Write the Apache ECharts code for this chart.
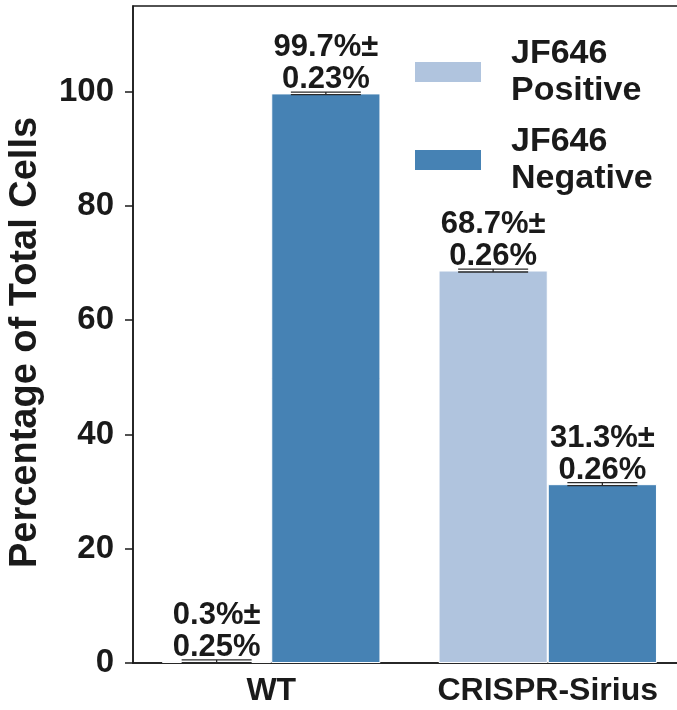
<!DOCTYPE html>
<html>
<head>
<meta charset="utf-8">
<script src="https://cdn.jsdelivr.net/npm/echarts@6/dist/echarts.min.js"></script>
<style>
  html, body { margin: 0; padding: 0; background: #fff; }
  #chart { width: 677px; height: 710px; }
</style>
</head>
<body>
<div id="chart"></div>
<script>
var categories = ['WT', 'CRISPR-Sirius'];
var seriesNames = ['JF646\nPositive', 'JF646\nNegative'];
var positiveValues = [0.3, 68.7];
var positiveErrors = [0.25, 0.26];
var negativeValues = [99.7, 31.3];
var negativeErrors = [0.23, 0.26];
var yTicks = [0, 20, 40, 60, 80, 100];

var fontFamily = '"Liberation Sans", Arial, sans-serif';
var ink = '#1a1a1a';
var colors = ['#b0c4de', '#4682b4'];
var catGap = 0.21;

var values = [positiveValues, negativeValues];
var errors = [positiveErrors, negativeErrors];

// error bar points: [category, value, error, side]
var errData = [];
values.forEach(function (vals, s) {
  vals.forEach(function (v, i) {
    errData.push([i, v, errors[s][i], s]);
  });
});

function barLabel(s) {
  return {
    show: true,
    position: 'top',
    distance: -2,
    fontFamily: fontFamily,
    fontWeight: 'bold',
    fontSize: 31,
    lineHeight: 32,
    color: ink,
    formatter: function (p) {
      return p.value.toFixed(1) + '%±\n' + errors[s][p.dataIndex].toFixed(2) + '%';
    }
  };
}

var chart = echarts.init(document.getElementById('chart'));
chart.setOption({
  animation: false,
  backgroundColor: '#fff',
  color: colors,
  grid: {
    left: 133, right: -9, top: 6, bottom: 47,
    outerBoundsMode: 'none',
    containLabel: false,
    show: true, borderColor: ink, borderWidth: 1.5, backgroundColor: 'transparent'
  },
  legend: {
    orient: 'vertical',
    left: 413,
    top: 35,
    padding: 0,
    itemWidth: 68,
    itemHeight: 22,
    itemGap: 14,
    icon: 'rect',
    data: seriesNames,
    textStyle: {
      fontFamily: fontFamily,
      fontWeight: 'bold',
      fontSize: 34,
      lineHeight: 37,
      color: ink,
      padding: [0, 0, 0, 24]
    }
  },
  xAxis: {
    type: 'category',
    data: categories,
    axisLine: { lineStyle: { color: ink, width: 1.5 } },
    axisTick: { alignWithLabel: true, length: 8, lineStyle: { color: ink, width: 1.5 } },
    axisLabel: {
      interval: 0,
      showMaxLabel: true,
      hideOverlap: false,
      margin: 12,
      fontFamily: fontFamily,
      fontWeight: 'bold',
      fontSize: 32,
      color: ink
    }
  },
  yAxis: {
    type: 'value',
    min: 0,
    max: 115,
    interval: 20,
    name: 'Percentage of Total Cells',
    nameLocation: 'middle',
    nameGap: 88,
    nameTextStyle: {
      fontFamily: fontFamily,
      fontWeight: 'bold',
      fontSize: 38,
      color: ink,
      padding: [0, 16, 0, 0]
    },
    splitLine: { show: false },
    axisLine: { show: true, lineStyle: { color: ink, width: 1.5 } },
    axisTick: { show: true, length: 8, lineStyle: { color: ink, width: 1.5 } },
    axisLabel: {
      margin: 19,
      showMaxLabel: false,
      fontFamily: fontFamily,
      fontWeight: 'bold',
      fontSize: 33,
      color: ink,
      formatter: function (v) { return yTicks.indexOf(v) >= 0 ? String(v) : ''; }
    }
  },
  series: [
    {
      name: seriesNames[0],
      type: 'bar',
      data: positiveValues,
      barGap: '0%',
      barCategoryGap: (catGap * 100) + '%',
      itemStyle: { color: colors[0], borderColor: '#fff', borderWidth: 1 },
      label: barLabel(0),
      z: 2
    },
    {
      name: seriesNames[1],
      type: 'bar',
      data: negativeValues,
      barGap: '0%',
      barCategoryGap: (catGap * 100) + '%',
      itemStyle: { color: colors[1], borderColor: '#fff', borderWidth: 1 },
      label: barLabel(1),
      z: 2
    },
    {
      type: 'custom',
      name: 'error',
      data: errData,
      z: 5,
      silent: true,
      renderItem: function (params, api) {
        var cat = api.value(0), v = api.value(1), e = api.value(2), side = api.value(3);
        var band = api.size([1, 0])[0];
        var barW = band * (1 - catGap) / 2;
        var centre = api.coord([cat, v]);
        var cx = centre[0] + (side === 0 ? -barW / 2 : barW / 2);
        var hi = api.coord([cat, v + e])[1];
        var lo = api.coord([cat, Math.max(v - e, 0)])[1];
        var half = 35;
        var style = { stroke: '#2a2a2a', lineWidth: 1.3 };
        return {
          type: 'group',
          children: [
            { type: 'line', shape: { x1: cx - half, y1: hi, x2: cx + half, y2: hi }, style: style },
            { type: 'line', shape: { x1: cx - half, y1: lo, x2: cx + half, y2: lo }, style: style },
            { type: 'line', shape: { x1: cx, y1: hi, x2: cx, y2: lo }, style: style }
          ]
        };
      }
    }
  ]
});
</script>
</body>
</html>
